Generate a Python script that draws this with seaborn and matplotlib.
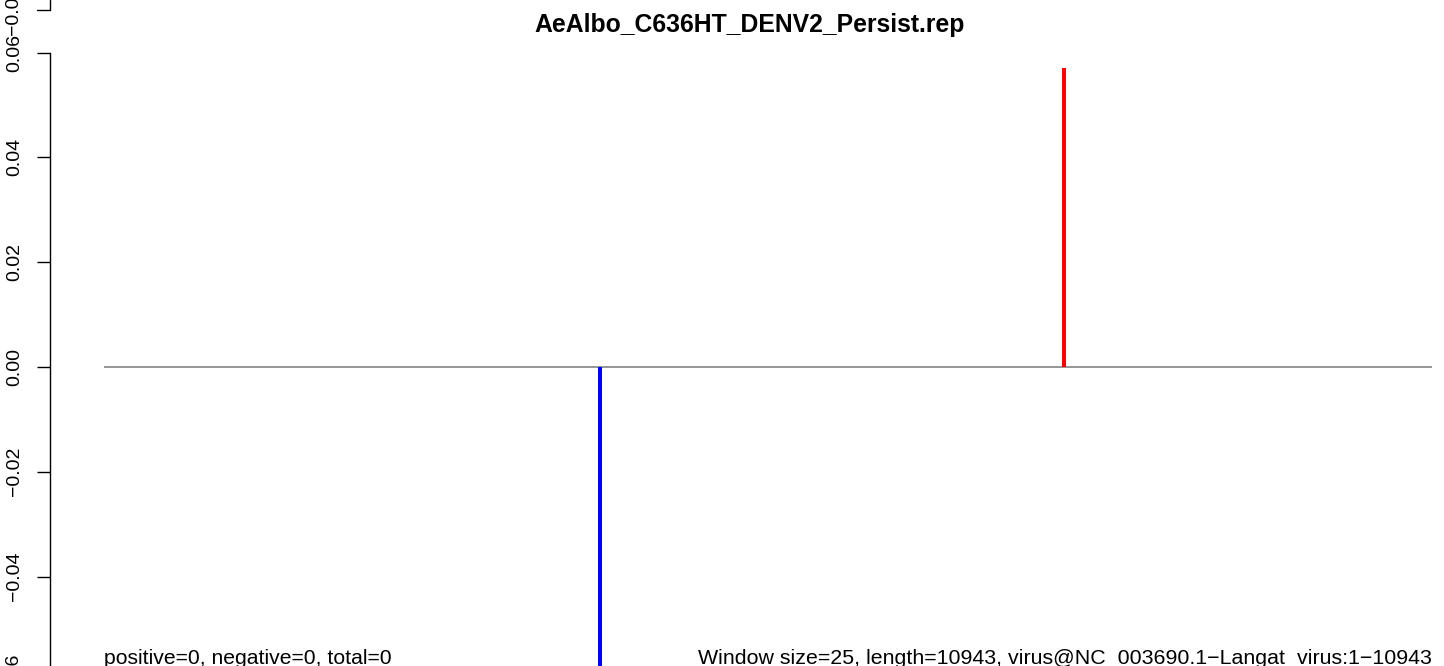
import matplotlib
matplotlib.use("Agg")
import matplotlib.pyplot as plt
import seaborn as sns
import numpy as np

# Window-score peaks along the genome
positions = [4087, 7910]
scores = [-0.0571, 0.0571]
bar_colors = ["#0000FF", "#FF0000"]

genome_start = 1
genome_length = 10943
y_ticks = [-0.06, -0.04, -0.02, 0.00, 0.02, 0.04, 0.06]
y_tick_labels = ["\u22120.06", "\u22120.04", "\u22120.02", "0.00", "0.02", "0.04", "0.06"]

title = "AeAlbo_C636HT_DENV2_Persist.rep"
left_note = "positive=0, negative=0, total=0"
right_note = "Window size=25, length=10943, virus@NC_003690.1\u2212Langat_virus:1\u221210943"

sns.set_theme(style="white")
plt.rcParams["font.family"] = ["Liberation Sans", "DejaVu Sans"]

W, H, DPI = 1444, 666, 100
fig = plt.figure(figsize=(W / DPI, H / DPI), dpi=DPI)
ax = fig.add_axes([50 / W, 0.0, 1400 / W, 1.0])

# baseline across the genome
ax.plot([genome_start, genome_length], [0, 0], color="#8c8c8c", linewidth=1.3,
        solid_capstyle="butt", zorder=1)

# score bars
ax.vlines(positions, 0, scores, colors=bar_colors, linewidth=2.9, zorder=2)

for s in ["top", "right", "bottom"]:
    ax.spines[s].set_visible(False)
ax.spines["left"].set_bounds(-0.06, 0.06)
ax.spines["left"].set_color("black")
ax.spines["left"].set_linewidth(1.0)
ax.set_xticks([])
ax.set_yticks(y_ticks)
ax.set_yticklabels(y_tick_labels, rotation=90, va="center", fontsize=14)
ax.tick_params(axis="y", left=True, length=9.4, width=1.0, color="black", pad=10,
               labelcolor="black")

# view limits (set after the ticks so they are not widened)
per_px = (genome_length - genome_start) / 1328.0
ax.set_xlim(genome_start - 54 * per_px, genome_length + 18 * per_px)
unit = 0.02 / 104.8
ax.set_ylim(-(666 - 367) * unit, 367 * unit)

ax.text(genome_start, -(663.5 - 367) * unit, left_note, ha="left", va="baseline",
        fontsize=15.2, color="black", clip_on=False)
ax.text(genome_length, -(663.5 - 367) * unit, right_note, ha="right", va="baseline",
        fontsize=15.4, color="black", clip_on=False)

fig.text(750 / W, 1 - 25 / H, title, ha="center", va="center", fontsize=17.8,
         fontweight="bold", color="black")

# lowest tick label sits just past the bottom edge
fig.text(13.5 / W, 1 - 678 / H, "\u22120.06", rotation=90, ha="center", va="center",
         fontsize=14, color="black")

# bottom of the panel stacked above
fx = 50 / W
fig.add_artist(plt.Line2D([fx, fx], [1.0, 1 - 10 / H], color="black", linewidth=1.0,
                          transform=fig.transFigure))
fig.add_artist(plt.Line2D([37 / W, fx], [1 - 10 / H, 1 - 10 / H], color="black",
                          linewidth=1.0, transform=fig.transFigure))
fig.text(13.5 / W, 1 - 10 / H, "\u22120.06", rotation=90, ha="center", va="center",
         fontsize=14, color="black")

fig.savefig("out.png", dpi=DPI)
